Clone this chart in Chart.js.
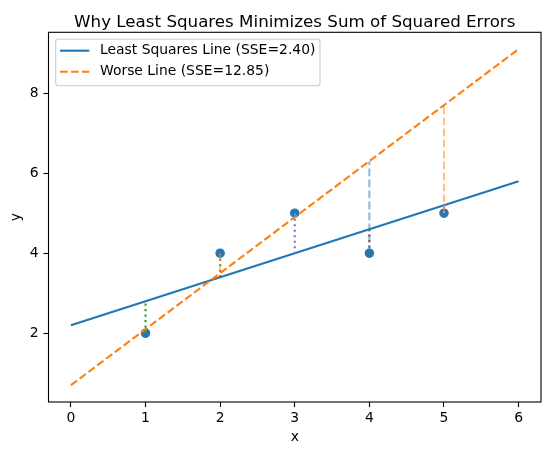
<!DOCTYPE html>
<html>
<head>
<meta charset="utf-8">
<script src="https://cdn.jsdelivr.net/npm/chart.js@4.4.1/dist/chart.umd.min.js"></script>
<style>
  html, body { margin: 0; padding: 0; background: #fff; }
  canvas { display: block; }
</style>
</head>
<body>
<canvas id="lsChart" width="554" height="455"></canvas>
<script>
// observed points
const xs = [1, 2, 3, 4, 5];
const ys = [2, 4, 5, 4, 5];

// the two fitted lines, drawn from x=0 to x=6
const lineX = [0, 6];
const lsLineY = [2.2, 5.8];
const worseLineY = [0.7, 9.1];

// fitted values at each observed x (other end of the residual segments)
const lsFit = [2.8, 3.4, 4.0, 4.6, 5.2];
const worseFit = [2.1, 3.5, 4.9, 6.3, 7.7];

const legendLabels = ['Least Squares Line (SSE=2.40)', 'Worse Line (SSE=12.85)'];
const xTicks = [0, 1, 2, 3, 4, 5, 6];
const yTicks = [2, 4, 6, 8];
const titleText = 'Why Least Squares Minimizes Sum of Squared Errors';

// matplotlib tab10 cycle
const tab10 = ['#1f77b4', '#ff7f0e', '#2ca02c', '#d62728', '#9467bd',
               '#8c564b', '#e377c2', '#7f7f7f', '#bcbd22', '#17becf'];
const halfAlpha = hex => hex + '80';

const FONT = '"DejaVu Sans", sans-serif';
const LW = 2.1;
const DOTTED = [2.1, 3.4];
const DASHED = [7.7, 3.3];

Chart.defaults.color = '#000';
Chart.defaults.font.family = FONT;
Chart.defaults.font.size = 13.9;

const pts = (xArr, yArr) => xArr.map((x, i) => ({ x: x, y: yArr[i] }));

const datasets = [];
datasets.push({
    label: 'points',
    data: pts(xs, ys),
    showLine: false,
    pointRadius: 4.2,
    pointBorderWidth: 1.1,
    pointBorderColor: tab10[0],
    pointBackgroundColor: tab10[0]
});
datasets.push({
    label: legendLabels[0],
    data: pts(lineX, lsLineY),
    showLine: true,
    borderColor: tab10[0],
    borderWidth: LW,
    pointRadius: 0
});
datasets.push({
    label: legendLabels[1],
    data: pts(lineX, worseLineY),
    showLine: true,
    borderColor: tab10[1],
    borderWidth: LW,
    borderDash: DASHED,
    pointRadius: 0
});
// residuals to the least squares line (dotted)
xs.forEach((x, i) => datasets.push({
    data: [{ x: x, y: ys[i] }, { x: x, y: lsFit[i] }],
    showLine: true,
    borderColor: tab10[(2 + i) % 10],
    borderWidth: LW,
    borderDash: DOTTED,
    pointRadius: 0
}));
// residuals to the worse line (dashed, half transparent)
xs.forEach((x, i) => datasets.push({
    data: [{ x: x, y: ys[i] }, { x: x, y: worseFit[i] }],
    showLine: true,
    borderColor: halfAlpha(tab10[(7 + i) % 10]),
    borderWidth: LW,
    borderDash: DASHED,
    pointRadius: 0
}));
// later datasets on top, like matplotlib
datasets.forEach((d, i) => { d.order = datasets.length - i; });

// axes frame + title centred over the plot area
const frame = {
    id: 'frame',
    afterDraw(chart) {
        const { ctx, chartArea: a } = chart;
        ctx.save();
        ctx.strokeStyle = '#000';
        ctx.lineWidth = 1.1;
        ctx.strokeRect(a.left, a.top, a.right - a.left, a.bottom - a.top);
        ctx.fillStyle = '#000';
        ctx.font = '16.7px ' + FONT;
        ctx.textAlign = 'center';
        ctx.textBaseline = 'alphabetic';
        ctx.fillText(titleText, (a.left + a.right) / 2, 26.5);
        ctx.restore();
    }
};

// matplotlib-like legend box in the upper left corner
const boxLegend = {
    id: 'boxLegend',
    afterDraw(chart) {
        const { ctx, chartArea: a } = chart;
        const x0 = a.left + 7.2, y0 = a.top + 7, w = 264.3, h = 46.4;
        ctx.save();
        ctx.beginPath();
        ctx.roundRect(x0, y0, w, h, 2.8);
        ctx.fillStyle = 'rgba(255,255,255,0.8)';
        ctx.fill();
        ctx.strokeStyle = '#cccccc';
        ctx.lineWidth = 1.1;
        ctx.stroke();
        [1, 2].forEach((di, k) => {
            const ds = chart.data.datasets[di];
            const yy = y0 + 11.4 + k * 21;
            ctx.beginPath();
            ctx.setLineDash(ds.borderDash || []);
            ctx.strokeStyle = ds.borderColor;
            ctx.lineWidth = ds.borderWidth;
            ctx.moveTo(x0 + 4.3, yy);
            ctx.lineTo(x0 + 33.6, yy);
            ctx.stroke();
            ctx.setLineDash([]);
            ctx.fillStyle = '#000';
            ctx.font = '13.9px ' + FONT;
            ctx.textBaseline = 'middle';
            ctx.fillText(ds.label, x0 + 44.3, yy);
        });
        ctx.restore();
    }
};

const tickGrid = {
    drawOnChartArea: false,
    drawTicks: true,
    tickLength: 5,
    tickWidth: 1.1,
    tickColor: '#000'
};

const ctx = document.getElementById('lsChart').getContext('2d');
const lsChart = new Chart(ctx, {
    type: 'scatter',
    data: { datasets: datasets },
    plugins: [frame, boxLegend],
    options: {
        responsive: false,
        animation: false,
        events: [],
        devicePixelRatio: 1,
        layout: { padding: { left: 0, right: 13, top: 32.3, bottom: 0 } },
        plugins: {
            legend: { display: false },
            tooltip: { enabled: false },
            title: { display: false }
        },
        scales: {
            x: {
                type: 'linear',
                min: -0.3,
                max: 6.3,
                afterBuildTicks: s => { s.ticks = xTicks.map(v => ({ value: v })); },
                afterFit: s => { s.height = 53; },
                grid: tickGrid,
                border: { display: false },
                ticks: { padding: 3, maxRotation: 0 },
                title: { display: true, text: 'x', padding: { top: 0, bottom: 9 } }
            },
            y: {
                type: 'linear',
                min: 0.28,
                max: 9.52,
                afterBuildTicks: s => { s.ticks = yTicks.map(v => ({ value: v })); },
                afterFit: s => { s.width = 48.5; },
                grid: tickGrid,
                border: { display: false },
                ticks: { padding: 5 },
                title: { display: true, text: 'y', padding: { top: 7.7, bottom: 0 } }
            }
        }
    }
});
</script>
</body>
</html>
